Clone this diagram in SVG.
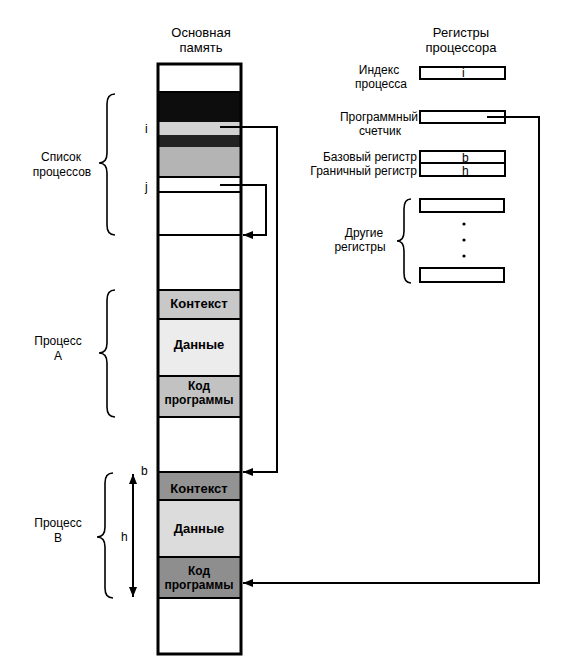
<svg xmlns="http://www.w3.org/2000/svg" width="566" height="664" viewBox="0 0 566 664">
<defs>
<style>
text{font-family:"Liberation Sans",Arial,sans-serif;font-size:12px;fill:#000}
.h{font-size:13px}
.m{font-size:13px;font-weight:bold;text-anchor:middle}
.k{font-size:12px}
.c{text-anchor:middle}
.e{text-anchor:end}
.sep{stroke:#000;stroke-width:2}
.reg{fill:#fff;stroke:#000;stroke-width:2}
.brace{fill:none;stroke:#000;stroke-width:1.6}
.conn{fill:none;stroke:#000;stroke-width:2}
</style>
<marker id="ah" markerUnits="userSpaceOnUse" markerWidth="10" markerHeight="8" refX="10" refY="4" orient="auto-start-reverse">
<path d="M0,0 L10,4 L0,8 z" fill="#000"/>
</marker>
</defs>
<rect width="566" height="664" fill="#fff"/>

<g id="memory">
<text class="h c" x="201" y="37">Основная</text>
<text class="h c" x="201" y="52">память</text>
<rect x="158" y="92" width="83" height="30" fill="#0d0d0d"/>
<rect x="158" y="122" width="83" height="13" fill="#d2d2d2"/>
<rect x="158" y="135" width="83" height="12" fill="#222"/>
<rect x="158" y="147" width="83" height="30" fill="#b4b4b4"/>
<line class="sep" x1="158" y1="92" x2="241" y2="92"/>
<line class="sep" x1="158" y1="177" x2="241" y2="177"/>
<line class="sep" x1="158" y1="192" x2="241" y2="192"/>
<line class="sep" x1="158" y1="235" x2="241" y2="235"/>
</g>

<g id="processA">
<rect x="158" y="290" width="83" height="29" fill="#c8c8c8"/>
<rect x="158" y="319" width="83" height="57" fill="#ececec"/>
<rect x="158" y="376" width="83" height="41" fill="#c2c2c2"/>
<line class="sep" x1="158" y1="290" x2="241" y2="290"/>
<line class="sep" x1="158" y1="319" x2="241" y2="319"/>
<line class="sep" x1="158" y1="376" x2="241" y2="376"/>
<line class="sep" x1="158" y1="417" x2="241" y2="417"/>
<text class="m" x="199" y="308">Контекст</text>
<text class="m" x="199" y="349">Данные</text>
<text class="m k" x="199" y="390">Код</text>
<text class="m k" x="199" y="404">программы</text>
</g>

<g id="processB">
<rect x="158" y="472" width="83" height="28" fill="#939393"/>
<rect x="158" y="500" width="83" height="57" fill="#dcdcdc"/>
<rect x="158" y="557" width="83" height="41" fill="#8e8e8e"/>
<line class="sep" x1="158" y1="472" x2="241" y2="472"/>
<line class="sep" x1="158" y1="500" x2="241" y2="500"/>
<line class="sep" x1="158" y1="557" x2="241" y2="557"/>
<line class="sep" x1="158" y1="598" x2="241" y2="598"/>
<text class="m" x="199" y="493">Контекст</text>
<text class="m" x="199" y="533">Данные</text>
<text class="m k" x="199" y="575">Код</text>
<text class="m k" x="199" y="589">программы</text>
</g>

<g id="memory-frame">
<rect x="158" y="64" width="83" height="590" fill="none" stroke="#000" stroke-width="3"/>
</g>

<g id="list-label">
<path class="brace" d="M115,94 Q107,94 107,104 L107,153 Q107,163 99,163 Q107,163 107,173 L107,225 Q107,235 115,235"/>
<text class="c" x="61" y="161">Список</text>
<text class="c" x="62" y="176">процессов</text>
<text x="145" y="133">i</text>
<text x="145" y="191">j</text>
</g>

<g id="processA-label">
<path class="brace" d="M115,290 Q107,290 107,300 L107,343 Q107,353 99,353 Q107,353 107,363 L107,407 Q107,417 115,417"/>
<text class="c" x="58" y="345">Процесс</text>
<text class="c" x="58" y="360">A</text>
</g>

<g id="processB-label">
<path class="brace" d="M113,473 Q105,473 105,483 L105,527 Q105,537 97,537 Q105,537 105,547 L105,588 Q105,598 113,598"/>
<text class="c" x="58" y="527">Процесс</text>
<text class="c" x="58" y="542">B</text>
<text x="141" y="475">b</text>
<text x="121" y="541">h</text>
</g>

<g id="registers">
<text class="h c" x="461" y="37">Регистры</text>
<text class="h c" x="461" y="52">процессора</text>
<rect class="reg" x="420" y="67" width="85" height="12"/>
<text x="462" y="77" font-size="10">i</text>
<text class="c" x="379" y="74">Индекс</text>
<text class="c" x="381" y="88">процесса</text>
<rect class="reg" x="420" y="111" width="85" height="12"/>
<text class="c" x="379" y="121">Программный</text>
<text class="c" x="380" y="135">счетчик</text>
<rect class="reg" x="420" y="151" width="85" height="12"/>
<rect class="reg" x="420" y="163" width="85" height="13"/>
<text x="462" y="162">b</text>
<text x="462" y="175">h</text>
<text class="e" x="417" y="161">Базовый регистр</text>
<text class="e" x="417" y="175">Граничный регистр</text>
<rect class="reg" x="420" y="199" width="84" height="13"/>
<circle cx="464" cy="224" r="1.6" fill="#000"/>
<circle cx="464" cy="240" r="1.6" fill="#000"/>
<circle cx="464" cy="256" r="1.6" fill="#000"/>
<rect class="reg" x="420" y="268" width="84" height="14"/>
<path class="brace" d="M411,199 Q404,199 404,209 L404,231 Q404,241 397,241 Q404,241 404,251 L404,273 Q404,283 411,283"/>
<text class="c" x="364" y="237">Другие</text>
<text class="c" x="360" y="251">регистры</text>
</g>

<g id="connectors">
<polyline class="conn" points="220,127 277,127 277,472 243,472" marker-end="url(#ah)"/>
<polyline class="conn" points="220,185 266,185 266,235 243,235" marker-end="url(#ah)"/>
<polyline class="conn" points="487,117 539,117 539,583 243,583" marker-end="url(#ah)"/>
<line class="conn" x1="133" y1="474" x2="133" y2="597" marker-start="url(#ah)" marker-end="url(#ah)"/>
</g>
</svg>
